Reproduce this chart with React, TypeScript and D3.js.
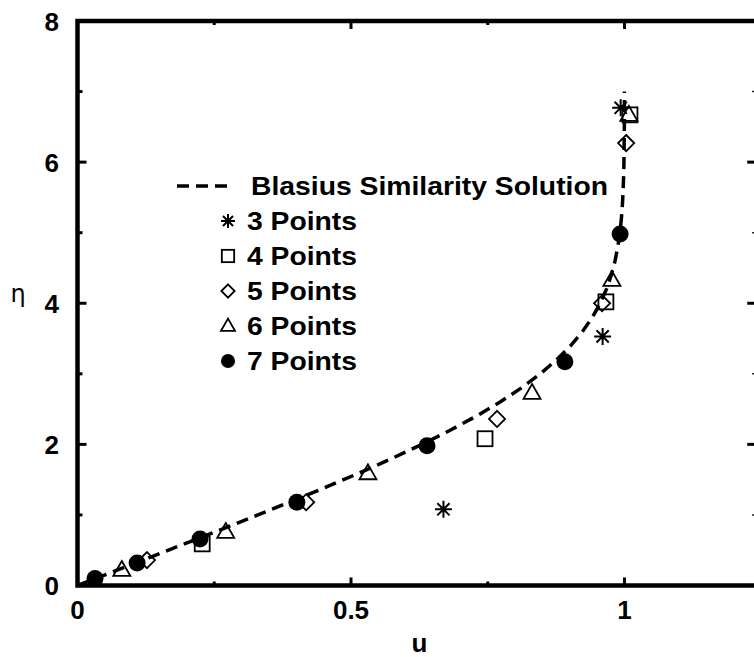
import React from "react";
import * as d3 from "d3";

// Blasius similarity solution, eta vs f'(eta) = u
const blasiusEta = [0, 0.2, 0.4, 0.6, 0.8, 1.0, 1.2, 1.4, 1.6, 1.8, 2.0, 2.2, 2.4, 2.6, 2.8, 3.0, 3.2, 3.4, 3.6, 3.8, 4.0, 4.2, 4.4, 4.6, 4.8, 5.0, 5.2, 5.4, 5.6, 5.8, 6.0, 6.5, 7.0];
const blasiusU = [0, 0.0664, 0.1328, 0.1989, 0.2647, 0.3298, 0.3938, 0.4563, 0.5168, 0.5748, 0.6298, 0.6813, 0.729, 0.7725, 0.8115, 0.8461, 0.8761, 0.9018, 0.9233, 0.9411, 0.9555, 0.967, 0.9759, 0.9827, 0.9878, 0.9916, 0.9943, 0.9962, 0.9975, 0.9984, 0.999, 0.9997, 0.9999];

// collocation results (u, eta)
const pts3U = [0.669, 0.96, 0.993];
const pts3Eta = [1.08, 3.53, 6.77];
const pts4U = [0.228, 0.745, 0.966, 1.01];
const pts4Eta = [0.59, 2.08, 4.02, 6.67];
const pts5U = [0.127, 0.418, 0.767, 0.959, 1.003];
const pts5Eta = [0.36, 1.18, 2.36, 4.0, 6.27];
const pts6U = [0.081, 0.271, 0.531, 0.831, 0.977, 1.008];
const pts6Eta = [0.22, 0.76, 1.59, 2.73, 4.33, 6.67];
const pts7U = [0.032, 0.109, 0.224, 0.401, 0.639, 0.891, 0.992];
const pts7Eta = [0.1, 0.32, 0.66, 1.18, 1.98, 3.17, 4.98];

const xMajor = [0, 0.5, 1];
const xMinor = [0.25, 0.75, 1.25];
const yMajor = [0, 2, 4, 6, 8];
const yMinor = [1, 3, 5, 7];

const legendLabels = ["Blasius Similarity Solution", "3 Points", "4 Points", "5 Points", "6 Points", "7 Points"];

type Kind = "star" | "square" | "diamond" | "triangle" | "circle";

function Marker({ kind, x, y, s }: { kind: Kind; x: number; y: number; s: number }) {
  const sw = 1.8;
  if (kind === "circle") return <circle cx={x} cy={y} r={s} fill="#000" />;
  if (kind === "square")
    return <rect x={x - s * 0.88} y={y - s * 0.88} width={s * 1.76} height={s * 1.76} fill="none" stroke="#000" strokeWidth={sw} />;
  if (kind === "diamond") {
    const d = s * 0.95;
    return <path d={`M${x},${y - d}L${x + d},${y}L${x},${y + d}L${x - d},${y}Z`} fill="none" stroke="#000" strokeWidth={sw} />;
  }
  if (kind === "triangle") {
    const h = s * 1.75;
    const w = s * 1.0;
    return <path d={`M${x},${y - h * 0.6}L${x + w},${y + h * 0.4}L${x - w},${y + h * 0.4}Z`} fill="none" stroke="#000" strokeWidth={sw} />;
  }
  const r = s;
  const q = r * 0.72;
  return (
    <path
      d={`M${x},${y - r}V${y + r}M${x - r},${y}H${x + r}M${x - q},${y - q}L${x + q},${y + q}M${x - q},${y + q}L${x + q},${y - q}`}
      stroke="#000"
      strokeWidth={2}
      fill="none"
    />
  );
}

export default function App() {
  const width = 754;
  const height = 657;
  const x = d3.scaleLinear().domain([0, 1.25]).range([77.5, 761.25]);
  const y = d3.scaleLinear().domain([0, 8]).range([585.5, 21]);

  const curve = d3
    .line<number>()
    .x((_, i) => x(blasiusU[i]))
    .y((d) => y(d))(blasiusEta) as string;

  const series: { kind: Kind; u: number[]; eta: number[] }[] = [
    { kind: "star", u: pts3U, eta: pts3Eta },
    { kind: "square", u: pts4U, eta: pts4Eta },
    { kind: "diamond", u: pts5U, eta: pts5Eta },
    { kind: "triangle", u: pts6U, eta: pts6Eta },
    { kind: "circle", u: pts7U, eta: pts7Eta },
  ];

  const font = "'Liberation Sans', Arial, Helvetica, sans-serif";
  const legX = 228;
  const legY0 = 186;
  const legDy = 35;

  return (
    <svg width={width} height={height} style={{ position: "absolute", left: 0, top: 0, background: "#fff" }}>
      <rect width={width} height={height} fill="#fff" />
      {/* curve */}
      <path d={curve} fill="none" stroke="#000" strokeWidth={3.5} strokeDasharray="12,7" />
      {/* markers */}
      {series.map((s) =>
        s.u.map((u, i) => <Marker key={s.kind + i} kind={s.kind} x={x(u)} y={y(s.eta[i])} s={8.5} />)
      )}
      {/* frame */}
      <rect x={x(0)} y={y(8)} width={x(1.25) - x(0)} height={y(0) - y(8)} fill="none" stroke="#000" strokeWidth={4.5} />
      {/* ticks */}
      {xMajor.map((t) => (
        <g key={"xM" + t}>
          <line x1={x(t)} x2={x(t)} y1={y(0)} y2={y(0) - 8} stroke="#000" strokeWidth={3} />
          <line x1={x(t)} x2={x(t)} y1={y(8)} y2={y(8) + 8} stroke="#000" strokeWidth={3} />
        </g>
      ))}
      {xMinor.map((t) => (
        <g key={"xm" + t}>
          <line x1={x(t)} x2={x(t)} y1={y(0)} y2={y(0) - 4} stroke="#000" strokeWidth={3} />
          <line x1={x(t)} x2={x(t)} y1={y(8)} y2={y(8) + 4} stroke="#000" strokeWidth={3} />
        </g>
      ))}
      {yMajor.map((t) => (
        <g key={"yM" + t}>
          <line x1={x(0)} x2={x(0) + 9} y1={y(t)} y2={y(t)} stroke="#000" strokeWidth={3} />
          <line x1={x(1.25)} x2={x(1.25) - 14} y1={y(t)} y2={y(t)} stroke="#000" strokeWidth={3} />
        </g>
      ))}
      {yMinor.map((t) => (
        <g key={"ym" + t}>
          <line x1={x(0)} x2={x(0) + 5} y1={y(t)} y2={y(t)} stroke="#000" strokeWidth={3} />
          <line x1={x(1.25)} x2={x(1.25) - 9} y1={y(t)} y2={y(t)} stroke="#000" strokeWidth={1.5} />
        </g>
      ))}
      {/* tick labels */}
      {xMajor.map((t) => (
        <text key={"xl" + t} x={x(t)} y={619} textAnchor="middle" fontFamily={font} fontWeight="bold" fontSize={26}>
          {t}
        </text>
      ))}
      {yMajor.map((t) => (
        <text key={"yl" + t} x={59} y={y(t) + 9.5} textAnchor="end" fontFamily={font} fontWeight="bold" fontSize={26}>
          {t}
        </text>
      ))}
      {/* axis labels */}
      <text x={x(0.625)} y={652} textAnchor="middle" fontFamily={font} fontWeight="bold" fontSize={26}>
        u
      </text>
      <text x={18} y={302} textAnchor="middle" fontFamily="'DejaVu Sans', sans-serif" fontSize={24}>
        η
      </text>
      {/* legend */}
      <line x1={177} x2={232} y1={legY0} y2={legY0} stroke="#000" strokeWidth={3.5} strokeDasharray="12,7" />
      {legendLabels.map((l, i) => (
        <text
          key={l}
          x={i === 0 ? 251 : 247}
          y={legY0 + i * legDy + 9}
          fontFamily={font}
          fontWeight="bold"
          fontSize={26}
          textLength={i === 0 ? 357 : 110}
          lengthAdjust="spacingAndGlyphs"
        >
          {l}
        </text>
      ))}
      {series.map((s, i) => (
        <Marker key={"leg" + s.kind} kind={s.kind} x={legX} y={legY0 + (i + 1) * legDy} s={7} />
      ))}
    </svg>
  );
}
